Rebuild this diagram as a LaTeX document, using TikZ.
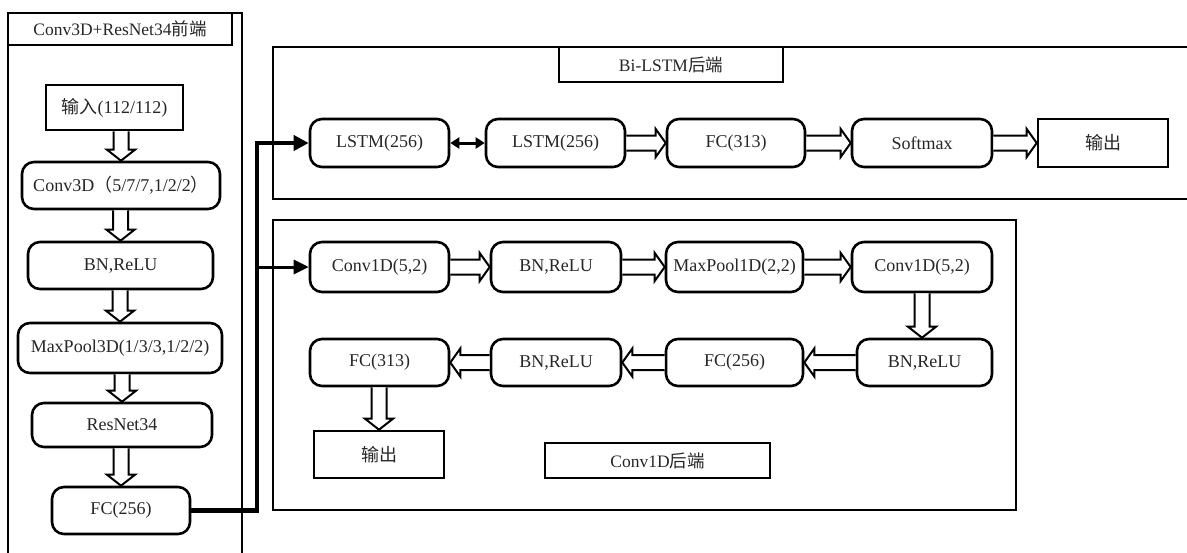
\documentclass[tikz,border=0pt]{standalone}
\usepackage{fontspec}
\setmainfont{Liberation Serif}
\newfontfamily\cjk{Noto Sans CJK SC}
\usetikzlibrary{calc,arrows.meta}
\tikzset{
  rbox/.style={draw, line width=2.6pt, rounded corners=12pt, inner sep=0pt, align=center,
    font=\fontsize{18}{20}\selectfont, text=black!85},
  sbox/.style={draw, line width=2.6pt, inner sep=0pt, align=center,
    font=\fontsize{18}{20}\selectfont, text=black!85},
  tbox/.style={draw, line width=2.3pt, inner sep=0pt, align=center,
    font=\fontsize{17.5}{20}\selectfont, text=black!85},
  panel/.style={draw, line width=2.2pt},
  hollow/.style={draw, line width=2pt, line join=miter, fill=white},
  conn/.style={line width=4.5pt, line join=miter},
}
\newcommand\hdown[2]{\draw[hollow] let \p1=(#1.south), \p2=(#2.north) in
  (\x2-7.5pt,\y1) -- (\x2-7.5pt,\y2+11pt) -- (\x2-14pt,\y2+11pt) -- (\x2,\y2)
  -- (\x2+14pt,\y2+11pt) -- (\x2+7.5pt,\y2+11pt) -- (\x2+7.5pt,\y1);}
\newcommand\hright[2]{\draw[hollow] let \p1=(#1.east), \p2=(#2.west) in
  (\x1,\y2+7.5pt) -- (\x2-10pt,\y2+7.5pt) -- (\x2-10pt,\y2+14pt) -- (\x2,\y2)
  -- (\x2-10pt,\y2-14pt) -- (\x2-10pt,\y2-7.5pt) -- (\x1,\y2-7.5pt);}
\newcommand\hleft[2]{\draw[hollow] let \p1=(#1.west), \p2=(#2.east) in
  (\x1,\y2+7.5pt) -- (\x2+10pt,\y2+7.5pt) -- (\x2+10pt,\y2+14pt) -- (\x2,\y2)
  -- (\x2+10pt,\y2-14pt) -- (\x2+10pt,\y2-7.5pt) -- (\x1,\y2-7.5pt);}
\begin{document}
\begin{tikzpicture}[x=1pt,y=-1pt]
\useasboundingbox (0,0) rectangle (1187,552);
% panels
\draw[panel] (8,570) -- (8,13) -- (242,13) -- (242,570);
\draw[panel] (1200,47) -- (273,47) -- (273,199) -- (1200,199);
\draw[panel] (273,220) rectangle (1016,510);
% titles
\node[tbox, minimum width=224pt, minimum height=32pt] (t1) at (120,29) {Conv3D+ResNet34{\cjk 前端}};
\node[tbox, minimum width=224pt, minimum height=35pt] (t2) at (671,64.5) {Bi-LSTM{\cjk 后端}};
\node[tbox, minimum width=225pt, minimum height=35pt] (t3) at (657.5,460.5) {Conv1D{\cjk 后端}};
% left column
\node[sbox, minimum width=137pt, minimum height=45pt] (in) at (114.5,107.5) {{\cjk 输入}(112/112)};
\node[rbox, minimum width=198pt, minimum height=47pt] (c3) at (121,185.5) {Conv3D{\cjk （}5/7/7,1/2/2{\cjk ）}};
\node[rbox, minimum width=185pt, minimum height=47pt] (bn1) at (120.5,265.5) {BN,ReLU};
\node[rbox, minimum width=204pt, minimum height=50pt] (mp3) at (120,348) {MaxPool3D(1/3/3,1/2/2)};
\node[rbox, minimum width=180pt, minimum height=44pt] (res) at (122,425) {ResNet34};
\node[rbox, minimum width=138pt, minimum height=47pt] (fc1) at (121,510.5) {FC(256)};
\hdown{in}{c3}
\hdown{c3}{bn1}
\hdown{bn1}{mp3}
\hdown{mp3}{res}
\hdown{res}{fc1}
% Bi-LSTM row
\node[rbox, minimum width=139pt, minimum height=48pt] (l1) at (379.5,143) {LSTM(256)};
\node[rbox, minimum width=139pt, minimum height=48pt] (l2) at (555.5,143) {LSTM(256)};
\node[rbox, minimum width=138pt, minimum height=48pt] (fc2) at (736,143) {FC(313)};
\node[rbox, minimum width=140pt, minimum height=48pt] (sm) at (922,143) {Softmax};
\node[sbox, minimum width=130pt, minimum height=48pt] (o1) at (1103,143) {\cjk 输出};
\draw[line width=3pt, {Triangle[length=9pt,width=11pt]}-{Triangle[length=9pt,width=11pt]}] (l1.east) -- (l2.west);
\hright{l2}{fc2}
\hright{fc2}{sm}
\hright{sm}{o1}
% Conv1D rows
\node[rbox, minimum width=139pt, minimum height=50pt] (c1) at (379.5,267) {Conv1D(5,2)};
\node[rbox, minimum width=130pt, minimum height=50pt] (bn2) at (556,267) {BN,ReLU};
\node[rbox, minimum width=137pt, minimum height=50pt] (mp1) at (734.5,267) {MaxPool1D(2,2)};
\node[rbox, minimum width=140pt, minimum height=50pt] (c2) at (922,267) {Conv1D(5,2)};
\node[rbox, minimum width=139pt, minimum height=47pt] (fc3) at (379.5,362.5) {FC(313)};
\node[rbox, minimum width=130pt, minimum height=47pt] (bn3) at (556,362.5) {BN,ReLU};
\node[rbox, minimum width=137pt, minimum height=47pt] (fc4) at (734.5,362.5) {FC(256)};
\node[rbox, minimum width=135pt, minimum height=47pt] (bn4) at (924.5,362.5) {BN,ReLU};
\node[sbox, minimum width=130pt, minimum height=47pt] (o2) at (379,454.5) {\cjk 输出};
\hright{c1}{bn2}
\hright{bn2}{mp1}
\hright{mp1}{c2}
\draw[hollow] let \p1=(c2.south), \p2=(bn4.north) in
  (\x1-7.5pt,\y1) -- (\x1-7.5pt,\y2+11pt) -- (\x1-14pt,\y2+11pt) -- (\x1,\y2)
  -- (\x1+14pt,\y2+11pt) -- (\x1+7.5pt,\y2+11pt) -- (\x1+7.5pt,\y1);
\hleft{bn4}{fc4}
\hleft{fc4}{bn3}
\hleft{bn3}{fc3}
\hdown{fc3}{o2}
% connectors
\coordinate (j1) at (257,143);
\coordinate (j2) at (257,267);
\draw[conn, -{Triangle[length=15pt,width=15pt]}] (fc1.east) -| (j1) -- (l1.west);
\draw[line width=3pt, -{Triangle[length=15pt,width=14pt]}] (j2) -- (c1.west);
\end{tikzpicture}
\end{document}
